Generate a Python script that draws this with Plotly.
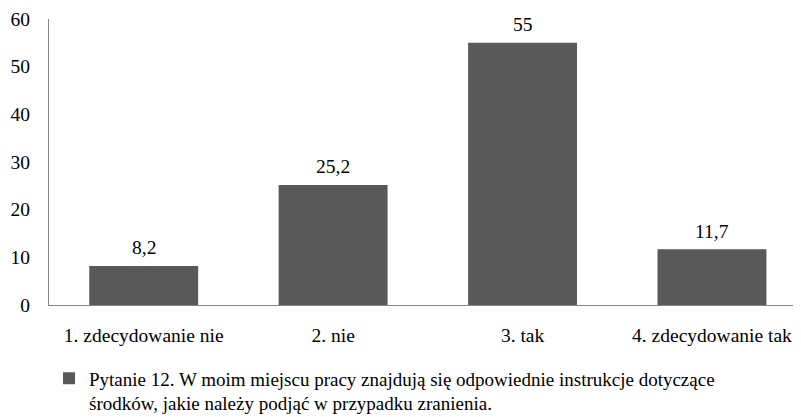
import plotly.graph_objects as go

categories = ["1. zdecydowanie nie", "2. nie", "3. tak", "4. zdecydowanie tak"]
values = [8.2, 25.2, 55, 11.7]
series_name = ("Pytanie 12. W moim miejscu pracy znajdują się odpowiednie instrukcje dotyczące<br>"
               "środków, jakie należy podjąć w przypadku zranienia.")
y_ticks = [0, 10, 20, 30, 40, 50, 60]

labels = [f"{v:g}".replace(".", ",") for v in values]
FONT = "Liberation Serif"
FS = 19.5
LEG_FS = 19

fig = go.Figure(go.Bar(
    x=categories, y=values, name=series_name,
    marker=dict(color="#595959", line=dict(width=0)),
    showlegend=True,
))

for c, v, t in zip(categories, values, labels):
    fig.add_annotation(x=c, y=v, xref="x", yref="y", text=t, showarrow=False,
                       yanchor="middle", yshift=18,
                       font=dict(family=FONT, size=FS, color="#000000"))

# the page body adds an 8px offset, so the figure is sized/margined to compensate
fig.update_layout(
    width=793, height=409,
    margin=dict(l=41, r=0, t=11, b=112, autoexpand=False),
    paper_bgcolor="white", plot_bgcolor="white",
    font=dict(family=FONT, size=FS, color="#000000"),
    bargap=0.425,
    showlegend=True,
    legend=dict(
        x=0.0, y=-0.19, xanchor="left", yanchor="top",
        orientation="h", valign="top", bgcolor="rgba(0,0,0,0)",
        font=dict(family=FONT, size=LEG_FS, color="#000000"),
        itemwidth=30, tracegroupgap=0,
    ),
    xaxis=dict(
        range=[-0.5, 3.47], showline=True, linecolor="#868686", linewidth=1,
        ticks="", showgrid=False, ticklabelstandoff=13, automargin=False,
        tickfont=dict(family=FONT, size=FS, color="#000000"),
    ),
    yaxis=dict(
        range=[0, 60], tickvals=y_ticks, showline=True, linecolor="#868686",
        linewidth=1, ticks="", showgrid=False, zeroline=False,
        ticklabelstandoff=14, automargin=False,
        tickfont=dict(family=FONT, size=FS, color="#000000"),
    ),
)

fig.write_html("out.html")
